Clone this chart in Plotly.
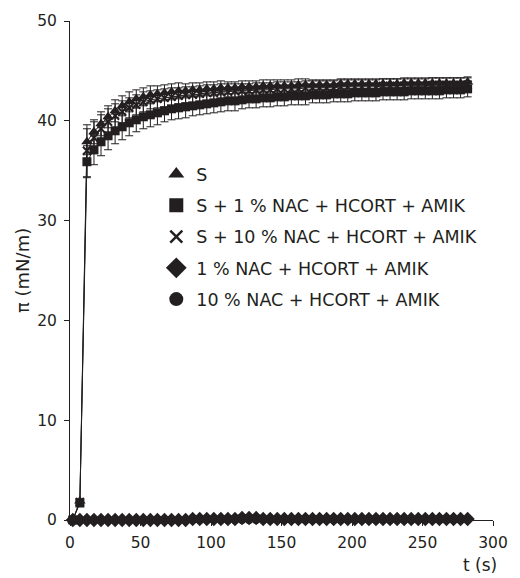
import plotly.graph_objects as go

t = [2, 7, 12, 17, 22, 27, 32, 37, 42, 47, 52, 57, 62, 67, 72, 77, 82, 87, 92, 97,
     102, 107, 112, 117, 122, 127, 132, 137, 142, 147, 152, 157, 162, 167, 172, 177,
     182, 187, 192, 197, 202, 207, 212, 217, 222, 227, 232, 237, 242, 247, 252, 257,
     262, 267, 272, 277, 282]

s_vals = [0.0, 1.9, 37.9, 38.9, 39.7, 40.4, 41.0, 41.5, 41.9, 42.2, 42.4, 42.6, 42.7, 42.8,
          42.9, 43.0, 43.0, 43.1, 43.1, 43.2, 43.2, 43.3, 43.3, 43.3, 43.4, 43.4, 43.4, 43.5,
          43.5, 43.5, 43.5, 43.5, 43.6, 43.6, 43.6, 43.6, 43.6, 43.6, 43.7, 43.7, 43.7, 43.7,
          43.7, 43.7, 43.7, 43.7, 43.7, 43.8, 43.8, 43.8, 43.8, 43.8, 43.8, 43.8, 43.8, 43.8, 43.9]
s_err = [0.0, 0.2, 1.3, 1.2, 1.2, 1.1, 1.1, 1.0, 1.0, 0.9, 0.9, 0.9, 0.8, 0.8,
         0.8, 0.8, 0.7, 0.7, 0.7, 0.7, 0.7, 0.7, 0.6, 0.6, 0.6, 0.6, 0.6, 0.6,
         0.6, 0.6, 0.6, 0.6, 0.6, 0.6, 0.5, 0.5, 0.5, 0.5, 0.5, 0.5, 0.5, 0.5,
         0.5, 0.5, 0.5, 0.5, 0.5, 0.5, 0.5, 0.5, 0.5, 0.5, 0.5, 0.5, 0.5, 0.5, 0.5]

s1_vals = [0.0, 1.7, 35.9, 37.1, 37.9, 38.5, 39.0, 39.4, 39.8, 40.1, 40.4, 40.6, 40.8, 41.0,
           41.2, 41.3, 41.4, 41.5, 41.6, 41.7, 41.8, 41.9, 42.0, 42.0, 42.1, 42.2, 42.2, 42.3,
           42.3, 42.4, 42.4, 42.5, 42.5, 42.5, 42.6, 42.6, 42.6, 42.7, 42.7, 42.7, 42.8, 42.8,
           42.8, 42.8, 42.9, 42.9, 42.9, 42.9, 43.0, 43.0, 43.0, 43.0, 43.0, 43.1, 43.1, 43.1, 43.2]
s1_err = [0.0, 0.2, 1.6, 1.5, 1.4, 1.4, 1.3, 1.3, 1.3, 1.2, 1.2, 1.2, 1.2, 1.1,
          1.1, 1.1, 1.1, 1.0, 1.0, 1.0, 1.0, 1.0, 1.0, 1.0, 0.9, 0.9, 0.9, 0.9,
          0.9, 0.9, 0.9, 0.9, 0.9, 0.9, 0.8, 0.8, 0.8, 0.8, 0.8, 0.8, 0.8, 0.8,
          0.8, 0.8, 0.8, 0.8, 0.8, 0.8, 0.8, 0.8, 0.8, 0.8, 0.8, 0.8, 0.8, 0.8, 0.8]

s10_vals = [0.0, 1.8, 37.0, 38.3, 39.2, 39.9, 40.5, 40.9, 41.3, 41.6, 41.9, 42.1, 42.2, 42.3,
            42.4, 42.5, 42.6, 42.6, 42.7, 42.8, 42.8, 42.9, 42.9, 43.0, 43.0, 43.0, 43.1, 43.1,
            43.1, 43.2, 43.2, 43.2, 43.2, 43.3, 43.3, 43.3, 43.3, 43.3, 43.4, 43.4, 43.4, 43.4,
            43.4, 43.4, 43.5, 43.5, 43.5, 43.5, 43.5, 43.5, 43.5, 43.6, 43.6, 43.6, 43.6, 43.6, 43.6]
s10_err = [0.0, 0.2, 2.6, 1.6, 1.4, 1.3, 1.2, 1.1, 1.0, 1.0, 1.0, 0.9, 0.9, 0.9,
           0.9, 0.8, 0.8, 0.8, 0.8, 0.8, 0.8, 0.8, 0.8, 0.7, 0.7, 0.7, 0.7, 0.7,
           0.7, 0.7, 0.7, 0.7, 0.7, 0.7, 0.7, 0.7, 0.7, 0.7, 0.7, 0.7, 0.7, 0.7,
           0.7, 0.7, 0.7, 0.7, 0.7, 0.7, 0.7, 0.7, 0.7, 0.7, 0.7, 0.7, 0.7, 0.7, 0.7]

n1_vals = [0.0, 0.0, 0.0, 0.0, 0.0, 0.0, 0.0, 0.0, 0.0, 0.0, 0.0, 0.0, 0.0, 0.0,
           0.0, 0.0, 0.0, 0.1, 0.1, 0.1, 0.1, 0.1, 0.1, 0.1, 0.2, 0.2, 0.2, 0.1,
           0.1, 0.1, 0.1, 0.1, 0.1, 0.1, 0.1, 0.1, 0.1, 0.1, 0.1, 0.1, 0.1, 0.1,
           0.1, 0.1, 0.1, 0.1, 0.1, 0.1, 0.1, 0.1, 0.1, 0.1, 0.1, 0.1, 0.1, 0.1, 0.1]
n1_err = [0.0, 0.0, 0.0, 0.0, 0.0, 0.0, 0.0, 0.0, 0.0, 0.0, 0.0, 0.0, 0.0, 0.0,
          0.0, 0.0, 0.0, 0.1, 0.1, 0.1, 0.2, 0.2, 0.3, 0.3, 0.3, 0.3, 0.3, 0.2,
          0.1, 0.1, 0.1, 0.1, 0.1, 0.1, 0.1, 0.1, 0.1, 0.1, 0.1, 0.1, 0.1, 0.1,
          0.1, 0.1, 0.1, 0.1, 0.1, 0.1, 0.1, 0.1, 0.1, 0.1, 0.1, 0.1, 0.1, 0.1, 0.1]

n10_vals = [0.0, 0.0, 0.0, 0.0, 0.0, 0.0, 0.0, 0.0, 0.0, 0.0, 0.0, 0.0, 0.0, 0.0,
            0.0, 0.0, 0.0, 0.0, 0.0, 0.0, 0.0, 0.0, 0.0, 0.0, 0.0, 0.0, 0.0, 0.0,
            0.0, 0.0, 0.0, 0.0, 0.0, 0.0, 0.0, 0.0, 0.0, 0.0, 0.0, 0.0, 0.0, 0.0,
            0.0, 0.0, 0.0, 0.0, 0.0, 0.0, 0.0, 0.0, 0.0, 0.0, 0.0, 0.0, 0.0, 0.0, 0.0]

labels = ["S", "S + 1 % NAC + HCORT + AMIK", "S + 10 % NAC + HCORT + AMIK",
          "1 % NAC + HCORT + AMIK", "10 % NAC + HCORT + AMIK"]
symbols = ["triangle-up", "square", "x-thin-open", "diamond", "circle"]
legend_sizes = [14, 14, 12, 17, 14]

tick_x = [0, 50, 100, 150, 200, 250, 300]
tick_y = [0, 10, 20, 30, 40, 50]

INK = "#231f20"
FONT = "DejaVu Sans"

fig = go.Figure()

series = [
    (n10_vals, None, "circle", 8),
    (n1_vals, n1_err, "diamond", 11),
    (s1_vals, s1_err, "square", 9),
    (s10_vals, s10_err, "x-thin-open", 8),
    (s_vals, s_err, "triangle-up", 10),
]
for vals, err, sym, sz in series:
    marker = dict(symbol=sym, size=sz, color=INK)
    if sym == "x-thin-open":
        marker["line"] = dict(color=INK, width=2)
    fig.add_trace(go.Scatter(
        x=t, y=vals, mode="lines+markers",
        line=dict(color=INK, width=1),
        marker=marker,
        error_y=dict(type="data", array=err, color=INK, thickness=1, width=4,
                     visible=err is not None),
        showlegend=False, cliponaxis=False,
    ))

for i, (lab, sym, sz) in enumerate(zip(labels, symbols, legend_sizes)):
    marker = dict(symbol=sym, size=sz, color=INK)
    if sym == "x-thin-open":
        marker["line"] = dict(color=INK, width=2.5)
    fig.add_trace(go.Scatter(
        x=[None], y=[None], mode="markers", name=lab, marker=marker,
        legendgroup=f"g{i}", showlegend=True,
    ))

fig.update_layout(
    width=520, height=578,
    margin=dict(l=70, r=18, t=15, b=58),
    paper_bgcolor="white", plot_bgcolor="white",
    font=dict(family=FONT, size=15, color=INK),
    legend=dict(
        x=0.204, y=0.729, xanchor="left", yanchor="top",
        bgcolor="rgba(0,0,0,0)", font=dict(family=FONT, size=17.5, color=INK),
        traceorder="grouped", tracegroupgap=5.5, itemsizing="trace",
    ),
    xaxis=dict(
        range=[0, 300], showgrid=False, zeroline=False, showline=True,
        linecolor=INK, linewidth=1, ticks="outside", ticklen=5, tickcolor=INK,
        tickvals=tick_x, tickfont=dict(size=15.5), ticklabelstandoff=3,
    ),
    yaxis=dict(
        range=[0, 50], showgrid=False, zeroline=False, showline=True,
        linecolor=INK, linewidth=1, ticks="outside", ticklen=5, tickcolor=INK,
        tickvals=tick_y, tickfont=dict(size=15.5), ticklabelstandoff=4,
    ),
    annotations=[
        dict(text="π (mN/m)", x=(22 - 70) / 432, y=(520 - 268) / 505,
             xref="paper", yref="paper", xanchor="center", yanchor="middle",
             showarrow=False, textangle=-90, font=dict(size=18)),
        dict(text="t (s)", x=(489 - 70) / 432, y=(520 - 566) / 505,
             xref="paper", yref="paper", xanchor="center", yanchor="middle",
             showarrow=False, font=dict(size=17)),
    ],
)

fig.write_html("out.html")
